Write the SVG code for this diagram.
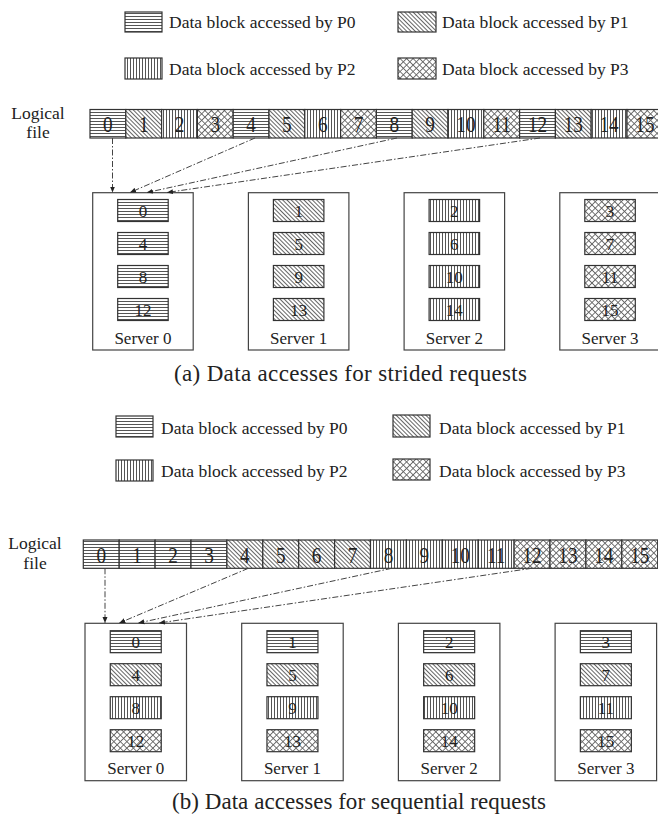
<svg xmlns="http://www.w3.org/2000/svg" width="658" height="817" viewBox="0 0 658 817">
<style>
text{font-family:"Liberation Serif","Times New Roman",serif;fill:#222}
.lg{font-size:17.5px}
.num{font-size:24px;text-anchor:middle}
.bn{font-size:17px;text-anchor:middle}
.sv{font-size:17px;text-anchor:middle}
.lf{font-size:17.5px;text-anchor:middle}
.cap{font-size:23px}
.cell{stroke:#333;stroke-width:1.2}
.srv{fill:#fff;stroke:#444;stroke-width:1.2}
.blk{stroke:#333;stroke-width:1.2}
.conn{fill:none;stroke:#444;stroke-width:1;stroke-dasharray:6 2 1.5 2}
</style>
<defs>
<pattern id="pH" patternUnits="userSpaceOnUse" width="4" height="3"><rect width="4" height="3" fill="#fff"/><line x1="0" y1="1.5" x2="4" y2="1.5" stroke="#555" stroke-width="1"/></pattern>
<pattern id="pV" patternUnits="userSpaceOnUse" width="3" height="4"><rect width="3" height="4" fill="#fff"/><line x1="1.5" y1="0" x2="1.5" y2="4" stroke="#555" stroke-width="1"/></pattern>
<pattern id="pD" patternUnits="userSpaceOnUse" width="3" height="4" patternTransform="rotate(-45)"><rect width="3" height="4" fill="#fff"/><line x1="1.5" y1="0" x2="1.5" y2="4" stroke="#666" stroke-width="1"/></pattern>
<pattern id="pX" patternUnits="userSpaceOnUse" width="4.6" height="4.6" patternTransform="rotate(45)"><rect width="4.6" height="4.6" fill="#fff"/><line x1="2.3" y1="0" x2="2.3" y2="4.6" stroke="#666" stroke-width="0.9"/><line x1="0" y1="2.3" x2="4.6" y2="2.3" stroke="#666" stroke-width="0.9"/></pattern>
<marker id="ah" markerUnits="userSpaceOnUse" markerWidth="6" markerHeight="6" viewBox="0 0 6 6" refX="6" refY="3" orient="auto"><path d="M0,0.5 L6,3 L0,5.5 Z" fill="#222"/></marker>
</defs>

<!-- ===== (a) ===== -->
<g id="legend-a">
<rect x="125" y="12" width="37" height="20" fill="url(#pH)" class="blk"/>
<text class="lg" x="169" y="28">Data block accessed by P0</text>
<rect x="398" y="12" width="38" height="20" fill="url(#pD)" class="blk"/>
<text class="lg" x="442" y="28">Data block accessed by P1</text>
<rect x="125" y="58" width="37" height="21" fill="url(#pV)" class="blk"/>
<text class="lg" x="169" y="75">Data block accessed by P2</text>
<rect x="398" y="58" width="38" height="21" fill="url(#pX)" class="blk"/>
<text class="lg" x="442" y="75">Data block accessed by P3</text>
</g>

<g id="logical-a">
<text class="lf" x="38" y="119">Logical</text>
<text class="lf" x="38" y="138">file</text>
<rect class="cell" x="90" y="109.5" width="35.8" height="28.5" fill="url(#pH)"/>
<rect class="cell" x="125.8" y="109.5" width="35.8" height="28.5" fill="url(#pD)"/>
<rect class="cell" x="161.6" y="109.5" width="35.8" height="28.5" fill="url(#pV)"/>
<rect class="cell" x="197.4" y="109.5" width="35.8" height="28.5" fill="url(#pX)"/>
<rect class="cell" x="233.2" y="109.5" width="35.8" height="28.5" fill="url(#pH)"/>
<rect class="cell" x="269" y="109.5" width="35.8" height="28.5" fill="url(#pD)"/>
<rect class="cell" x="304.8" y="109.5" width="35.8" height="28.5" fill="url(#pV)"/>
<rect class="cell" x="340.6" y="109.5" width="35.8" height="28.5" fill="url(#pX)"/>
<rect class="cell" x="376.4" y="109.5" width="35.8" height="28.5" fill="url(#pH)"/>
<rect class="cell" x="412.2" y="109.5" width="35.8" height="28.5" fill="url(#pD)"/>
<rect class="cell" x="448" y="109.5" width="35.8" height="28.5" fill="url(#pV)"/>
<rect class="cell" x="483.8" y="109.5" width="35.8" height="28.5" fill="url(#pX)"/>
<rect class="cell" x="519.6" y="109.5" width="35.8" height="28.5" fill="url(#pH)"/>
<rect class="cell" x="555.4" y="109.5" width="35.8" height="28.5" fill="url(#pD)"/>
<rect class="cell" x="591.2" y="109.5" width="35.8" height="28.5" fill="url(#pV)"/>
<rect class="cell" x="627" y="109.5" width="35.8" height="28.5" fill="url(#pX)"/>
<text class="num" transform="translate(107.9,132) scale(0.8,1)">0</text>
<text class="num" transform="translate(143.7,132) scale(0.8,1)">1</text>
<text class="num" transform="translate(179.5,132) scale(0.8,1)">2</text>
<text class="num" transform="translate(215.3,132) scale(0.8,1)">3</text>
<text class="num" transform="translate(251.1,132) scale(0.8,1)">4</text>
<text class="num" transform="translate(286.9,132) scale(0.8,1)">5</text>
<text class="num" transform="translate(322.7,132) scale(0.8,1)">6</text>
<text class="num" transform="translate(358.5,132) scale(0.8,1)">7</text>
<text class="num" transform="translate(394.3,132) scale(0.8,1)">8</text>
<text class="num" transform="translate(430.1,132) scale(0.8,1)">9</text>
<text class="num" transform="translate(465.9,132) scale(0.8,1)">10</text>
<text class="num" transform="translate(501.7,132) scale(0.8,1)">11</text>
<text class="num" transform="translate(537.5,132) scale(0.8,1)">12</text>
<text class="num" transform="translate(573.3,132) scale(0.8,1)">13</text>
<text class="num" transform="translate(609.1,132) scale(0.8,1)">14</text>
<text class="num" transform="translate(644.9,132) scale(0.8,1)">15</text>
</g>

<g id="server0-a">
<rect class="srv" x="92.7" y="192.7" width="100.5" height="157.3"/>
<rect class="blk" x="117.7" y="199.5" width="50.5" height="22" fill="url(#pH)"/>
<rect class="blk" x="117.7" y="232.5" width="50.5" height="22" fill="url(#pH)"/>
<rect class="blk" x="117.7" y="265.5" width="50.5" height="22" fill="url(#pH)"/>
<rect class="blk" x="117.7" y="298.5" width="50.5" height="22" fill="url(#pH)"/>
<text class="bn" x="142.95" y="216.5">0</text>
<text class="bn" x="142.95" y="249.5">4</text>
<text class="bn" x="142.95" y="282.5">8</text>
<text class="bn" x="142.95" y="315.5">12</text>
<text class="sv" x="142.95" y="344">Server 0</text>
</g>
<g id="server1-a">
<rect class="srv" x="248.4" y="192.7" width="100.5" height="157.3"/>
<rect class="blk" x="273.4" y="199.5" width="50.5" height="22" fill="url(#pD)"/>
<rect class="blk" x="273.4" y="232.5" width="50.5" height="22" fill="url(#pD)"/>
<rect class="blk" x="273.4" y="265.5" width="50.5" height="22" fill="url(#pD)"/>
<rect class="blk" x="273.4" y="298.5" width="50.5" height="22" fill="url(#pD)"/>
<text class="bn" x="298.65" y="216.5">1</text>
<text class="bn" x="298.65" y="249.5">5</text>
<text class="bn" x="298.65" y="282.5">9</text>
<text class="bn" x="298.65" y="315.5">13</text>
<text class="sv" x="298.65" y="344">Server 1</text>
</g>
<g id="server2-a">
<rect class="srv" x="404.1" y="192.7" width="100.5" height="157.3"/>
<rect class="blk" x="429.1" y="199.5" width="50.5" height="22" fill="url(#pV)"/>
<rect class="blk" x="429.1" y="232.5" width="50.5" height="22" fill="url(#pV)"/>
<rect class="blk" x="429.1" y="265.5" width="50.5" height="22" fill="url(#pV)"/>
<rect class="blk" x="429.1" y="298.5" width="50.5" height="22" fill="url(#pV)"/>
<text class="bn" x="454.35" y="216.5">2</text>
<text class="bn" x="454.35" y="249.5">6</text>
<text class="bn" x="454.35" y="282.5">10</text>
<text class="bn" x="454.35" y="315.5">14</text>
<text class="sv" x="454.35" y="344">Server 2</text>
</g>
<g id="server3-a">
<rect class="srv" x="559.8" y="192.7" width="100.5" height="157.3"/>
<rect class="blk" x="584.8" y="199.5" width="50.5" height="22" fill="url(#pX)"/>
<rect class="blk" x="584.8" y="232.5" width="50.5" height="22" fill="url(#pX)"/>
<rect class="blk" x="584.8" y="265.5" width="50.5" height="22" fill="url(#pX)"/>
<rect class="blk" x="584.8" y="298.5" width="50.5" height="22" fill="url(#pX)"/>
<text class="bn" x="610.05" y="216.5">3</text>
<text class="bn" x="610.05" y="249.5">7</text>
<text class="bn" x="610.05" y="282.5">11</text>
<text class="bn" x="610.05" y="315.5">15</text>
<text class="sv" x="610.05" y="344">Server 3</text>
</g>

<g id="connectors-a">
<line class="conn" x1="112.5" y1="138" x2="112.5" y2="192.5" marker-end="url(#ah)"/>
<line class="conn" x1="255" y1="138" x2="130" y2="192.5" marker-end="url(#ah)"/>
<line class="conn" x1="397" y1="138" x2="147" y2="192.5" marker-end="url(#ah)"/>
<line class="conn" x1="540" y1="138" x2="167" y2="192.5" marker-end="url(#ah)"/>
</g>

<text id="caption-a" class="cap" x="174" y="381" textLength="353" lengthAdjust="spacing">(a) Data accesses for strided requests</text>

<!-- ===== (b) ===== -->
<g id="legend-b">
<rect x="116" y="416" width="37" height="21" fill="url(#pH)" class="blk"/>
<text class="lg" x="161" y="434">Data block accessed by P0</text>
<rect x="393" y="415" width="37" height="22" fill="url(#pD)" class="blk"/>
<text class="lg" x="439" y="434">Data block accessed by P1</text>
<rect x="116" y="460" width="37" height="21" fill="url(#pV)" class="blk"/>
<text class="lg" x="161" y="477">Data block accessed by P2</text>
<rect x="393" y="459" width="37" height="21" fill="url(#pX)" class="blk"/>
<text class="lg" x="439" y="477">Data block accessed by P3</text>
</g>

<g id="logical-b">
<text class="lf" x="35" y="548.5">Logical</text>
<text class="lf" x="35" y="569">file</text>
<rect class="cell" x="83.3" y="540" width="35.9" height="28.3" fill="url(#pH)"/>
<rect class="cell" x="119.2" y="540" width="35.9" height="28.3" fill="url(#pH)"/>
<rect class="cell" x="155.1" y="540" width="35.9" height="28.3" fill="url(#pH)"/>
<rect class="cell" x="191" y="540" width="35.9" height="28.3" fill="url(#pH)"/>
<rect class="cell" x="226.9" y="540" width="35.9" height="28.3" fill="url(#pD)"/>
<rect class="cell" x="262.8" y="540" width="35.9" height="28.3" fill="url(#pD)"/>
<rect class="cell" x="298.7" y="540" width="35.9" height="28.3" fill="url(#pD)"/>
<rect class="cell" x="334.6" y="540" width="35.9" height="28.3" fill="url(#pD)"/>
<rect class="cell" x="370.5" y="540" width="35.9" height="28.3" fill="url(#pV)"/>
<rect class="cell" x="406.4" y="540" width="35.9" height="28.3" fill="url(#pV)"/>
<rect class="cell" x="442.3" y="540" width="35.9" height="28.3" fill="url(#pV)"/>
<rect class="cell" x="478.2" y="540" width="35.9" height="28.3" fill="url(#pV)"/>
<rect class="cell" x="514.1" y="540" width="35.9" height="28.3" fill="url(#pX)"/>
<rect class="cell" x="550" y="540" width="35.9" height="28.3" fill="url(#pX)"/>
<rect class="cell" x="585.9" y="540" width="35.9" height="28.3" fill="url(#pX)"/>
<rect class="cell" x="621.8" y="540" width="35.9" height="28.3" fill="url(#pX)"/>
<text class="num" transform="translate(101.25,562.5) scale(0.8,1)">0</text>
<text class="num" transform="translate(137.15,562.5) scale(0.8,1)">1</text>
<text class="num" transform="translate(173.05,562.5) scale(0.8,1)">2</text>
<text class="num" transform="translate(208.95,562.5) scale(0.8,1)">3</text>
<text class="num" transform="translate(244.85,562.5) scale(0.8,1)">4</text>
<text class="num" transform="translate(280.75,562.5) scale(0.8,1)">5</text>
<text class="num" transform="translate(316.65,562.5) scale(0.8,1)">6</text>
<text class="num" transform="translate(352.55,562.5) scale(0.8,1)">7</text>
<text class="num" transform="translate(388.45,562.5) scale(0.8,1)">8</text>
<text class="num" transform="translate(424.35,562.5) scale(0.8,1)">9</text>
<text class="num" transform="translate(460.25,562.5) scale(0.8,1)">10</text>
<text class="num" transform="translate(496.15,562.5) scale(0.8,1)">11</text>
<text class="num" transform="translate(532.05,562.5) scale(0.8,1)">12</text>
<text class="num" transform="translate(567.95,562.5) scale(0.8,1)">13</text>
<text class="num" transform="translate(603.85,562.5) scale(0.8,1)">14</text>
<text class="num" transform="translate(639.75,562.5) scale(0.8,1)">15</text>
</g>

<g id="server0-b">
<rect class="srv" x="85" y="623.3" width="101.5" height="157.4"/>
<rect class="blk" x="110.25" y="630.7" width="51" height="22" fill="url(#pH)"/>
<rect class="blk" x="110.25" y="663.7" width="51" height="22" fill="url(#pD)"/>
<rect class="blk" x="110.25" y="696.7" width="51" height="22" fill="url(#pV)"/>
<rect class="blk" x="110.25" y="729.7" width="51" height="22" fill="url(#pX)"/>
<text class="bn" x="135.75" y="647.7">0</text>
<text class="bn" x="135.75" y="680.7">4</text>
<text class="bn" x="135.75" y="713.7">8</text>
<text class="bn" x="135.75" y="746.7">12</text>
<text class="sv" x="135.75" y="774">Server 0</text>
</g>
<g id="server1-b">
<rect class="srv" x="241.7" y="623.3" width="101.5" height="157.4"/>
<rect class="blk" x="266.95" y="630.7" width="51" height="22" fill="url(#pH)"/>
<rect class="blk" x="266.95" y="663.7" width="51" height="22" fill="url(#pD)"/>
<rect class="blk" x="266.95" y="696.7" width="51" height="22" fill="url(#pV)"/>
<rect class="blk" x="266.95" y="729.7" width="51" height="22" fill="url(#pX)"/>
<text class="bn" x="292.45" y="647.7">1</text>
<text class="bn" x="292.45" y="680.7">5</text>
<text class="bn" x="292.45" y="713.7">9</text>
<text class="bn" x="292.45" y="746.7">13</text>
<text class="sv" x="292.45" y="774">Server 1</text>
</g>
<g id="server2-b">
<rect class="srv" x="398.4" y="623.3" width="101.5" height="157.4"/>
<rect class="blk" x="423.65" y="630.7" width="51" height="22" fill="url(#pH)"/>
<rect class="blk" x="423.65" y="663.7" width="51" height="22" fill="url(#pD)"/>
<rect class="blk" x="423.65" y="696.7" width="51" height="22" fill="url(#pV)"/>
<rect class="blk" x="423.65" y="729.7" width="51" height="22" fill="url(#pX)"/>
<text class="bn" x="449.15" y="647.7">2</text>
<text class="bn" x="449.15" y="680.7">6</text>
<text class="bn" x="449.15" y="713.7">10</text>
<text class="bn" x="449.15" y="746.7">14</text>
<text class="sv" x="449.15" y="774">Server 2</text>
</g>
<g id="server3-b">
<rect class="srv" x="555.1" y="623.3" width="101.5" height="157.4"/>
<rect class="blk" x="580.35" y="630.7" width="51" height="22" fill="url(#pH)"/>
<rect class="blk" x="580.35" y="663.7" width="51" height="22" fill="url(#pD)"/>
<rect class="blk" x="580.35" y="696.7" width="51" height="22" fill="url(#pV)"/>
<rect class="blk" x="580.35" y="729.7" width="51" height="22" fill="url(#pX)"/>
<text class="bn" x="605.85" y="647.7">3</text>
<text class="bn" x="605.85" y="680.7">7</text>
<text class="bn" x="605.85" y="713.7">11</text>
<text class="bn" x="605.85" y="746.7">15</text>
<text class="sv" x="605.85" y="774">Server 3</text>
</g>

<g id="connectors-b">
<line class="conn" x1="105" y1="568.3" x2="105" y2="623" marker-end="url(#ah)"/>
<line class="conn" x1="248.3" y1="568.3" x2="119.3" y2="623" marker-end="url(#ah)"/>
<line class="conn" x1="391.7" y1="568.3" x2="138.3" y2="623" marker-end="url(#ah)"/>
<line class="conn" x1="531.7" y1="568.3" x2="159" y2="623" marker-end="url(#ah)"/>
</g>

<text id="caption-b" class="cap" x="172" y="809" textLength="374" lengthAdjust="spacing">(b) Data accesses for sequential requests</text>
</svg>
